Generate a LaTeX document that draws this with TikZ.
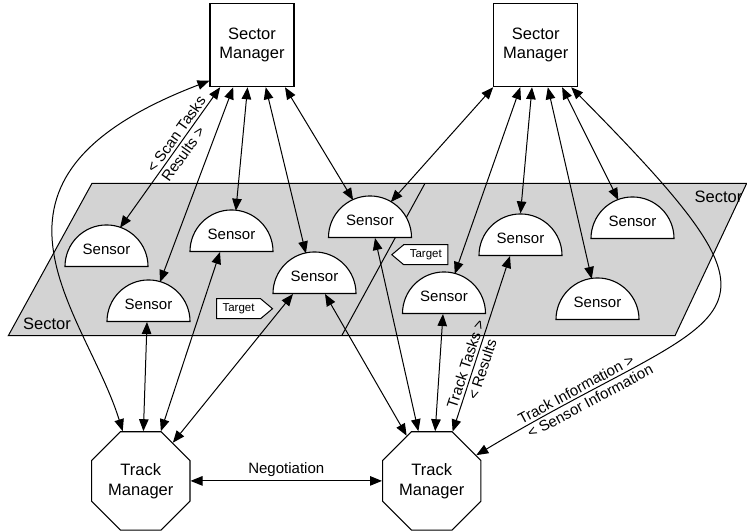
\documentclass[tikz,border=0pt]{standalone}
\usepackage{fontspec}
\setmainfont{Liberation Sans}
\usetikzlibrary{shapes.geometric,shapes.symbols,arrows.meta,calc}
\definecolor{sectorgrey}{RGB}{211,211,211}

\begin{document}
\begin{tikzpicture}[x=1pt,y=1pt,
  >={Triangle[length=12pt,width=9.5pt]},
  link/.style={<->,line width=1pt},
  manager/.style={draw,line width=1.1pt,fill=white,minimum width=84pt,minimum height=83.4pt,
    inner sep=0pt,align=center,font=\fontsize{16.5}{19.8}\selectfont},
  tracker/.style={draw,line width=1.1pt,fill=white,regular polygon,regular polygon sides=8,
    minimum size=106.4pt,inner sep=0pt,align=center,font=\fontsize{16.5}{19.8}\selectfont},
  sensor/.style={draw,line width=1.1pt,fill=white,semicircle,minimum width=83pt,
    minimum height=41.5pt,inner xsep=0pt,inner ysep=11pt,anchor=chord center,
    font=\fontsize{15}{18}\selectfont},
  target/.style={draw,line width=1pt,fill=white,signal,signal pointer angle=80,
    minimum width=56pt,minimum height=20pt,inner sep=1pt,font=\fontsize{11.5}{13}\selectfont},
  tag/.style={font=\fontsize{15}{18}\selectfont,inner sep=2.6pt,sloped},
  sectortext/.style={font=\fontsize{16.5}{19.8}\selectfont,inner sep=0pt}
]
\useasboundingbox (0,0) rectangle (747,-531);

% the two sectors share one grey strip, split by a slanted border
\fill[sectorgrey] (92,-183.3) -- (746.7,-183.3) -- (675,-335.7) -- (8.3,-335.7) -- cycle;
\draw[line width=1pt] (92,-183.3) -- (746.7,-183.3) -- (675,-335.7) -- (8.3,-335.7) -- cycle;
\draw[line width=1pt] (425,-183.3) -- (341.7,-335.7);
\node[sectortext] (secA) at (47,-323.5) {Sector};
\node[sectortext] (secB) at (718.5,-196.5) {Sector};

% managers
\node[manager] (sm1) at (252,-45) {Sector\\Manager};
\node[manager] (sm2) at (535.7,-45) {Sector\\Manager};
\node[tracker] (tm1) at (140.8,-480.9) {Track\\Manager};
\node[tracker] (tm2) at (431.7,-480.9) {Track\\Manager};

% sensors, placed by the middle of their flat side
\node[sensor] (s1) at (106.5,-267) {Sensor};
\node[sensor] (s2) at (231.5,-252) {Sensor};
\node[sensor] (s3) at (148.5,-322) {Sensor};
\node[sensor] (s4) at (314.5,-294) {Sensor};
\node[sensor] (s5) at (370,-238) {Sensor};
\node[sensor] (s6) at (444,-314) {Sensor};
\node[sensor] (s7) at (520.5,-256) {Sensor};
\node[sensor] (s8) at (632.5,-239) {Sensor};
\node[sensor] (s9) at (597.5,-320) {Sensor};

% targets
\node[target,signal to=east,anchor=west] (tg1) at (216,-308.7) {Target};
\node[target,signal to=west,anchor=east] (tg2) at (448.3,-254.7) {Target};

% sector manager 1 to its sensors
\draw[link] ($(s1.chord center)+(71:41.5)$) -- (sm1.-127.5)
  node[tag,pos=0.63,above] {< Scan Tasks}
  node[tag,pos=0.56,below] {Results >};
\draw[link] (sm1.-114.5) -- ($(s3.chord center)+(74:41.5)$);
\draw[link] (sm1.-96.8) -- ($(s2.chord center)+(84:41.5)$);
\draw[link] (sm1.-72.7) -- ($(s4.chord center)+(102:41.5)$);
\draw[link] (sm1.-52.5) -- ($(s5.chord center)+(114:41.5)$);

% sector manager 2 to its sensors
\draw[link] (sm2.south west) -- ($(s5.chord center)+(60:41.5)$);
\draw[link] (sm2.-110.6) -- ($(s6.chord center)+(75:41.5)$);
\draw[link] (sm2.-95) -- (s7.apex);
\draw[link] (sm2.-74.8) -- ($(s9.chord center)+(98:41.5)$);
\draw[link] (sm2.-58.8) -- ($(s8.chord center)+(110:41.5)$);

% track manager 1
\draw[link] (sm1.-140) .. controls (-50,-180) and (85,-310) .. (tm1.110);
\draw[link] ($(s3.chord center)+(-1.5,0)$) -- (tm1.87.4);
\draw[link] ($(s2.chord center)+(-11.5,0)$) -- (tm1.68.7);
\draw[link] ($(s4.chord center)+(-21.5,0)$) -- (tm1.50.4);

% track manager 2
\draw[link] ($(s4.chord center)+(10.5,0)$) -- (tm2.119);
\draw[link] ($(s5.chord center)+(5,0)$) -- (tm2.105.4);
\draw[link] ($(s6.chord center)+(-1,0)$) -- (tm2.86.2);
\draw[link] (tm2.67.9) -- ($(s7.chord center)+(-10.5,0)$)
  node[tag,pos=0.37,above] {Track Tasks >}
  node[tag,pos=0.37,below] {< Results};
\draw[link] (sm2.-50.6) .. controls (817.5,-336.5) and (734,-300.5) .. (tm2.30)
  node[tag,pos=0.85,above] {Track Information >}
  node[tag,pos=0.84,below] {< Sensor Information};

% negotiation between the track managers
\draw[link] (tm1.east) -- (tm2.west)
  node[midway,above,inner sep=4pt,font=\fontsize{15}{18}\selectfont] (neg) {Negotiation};
\end{tikzpicture}
\end{document}
